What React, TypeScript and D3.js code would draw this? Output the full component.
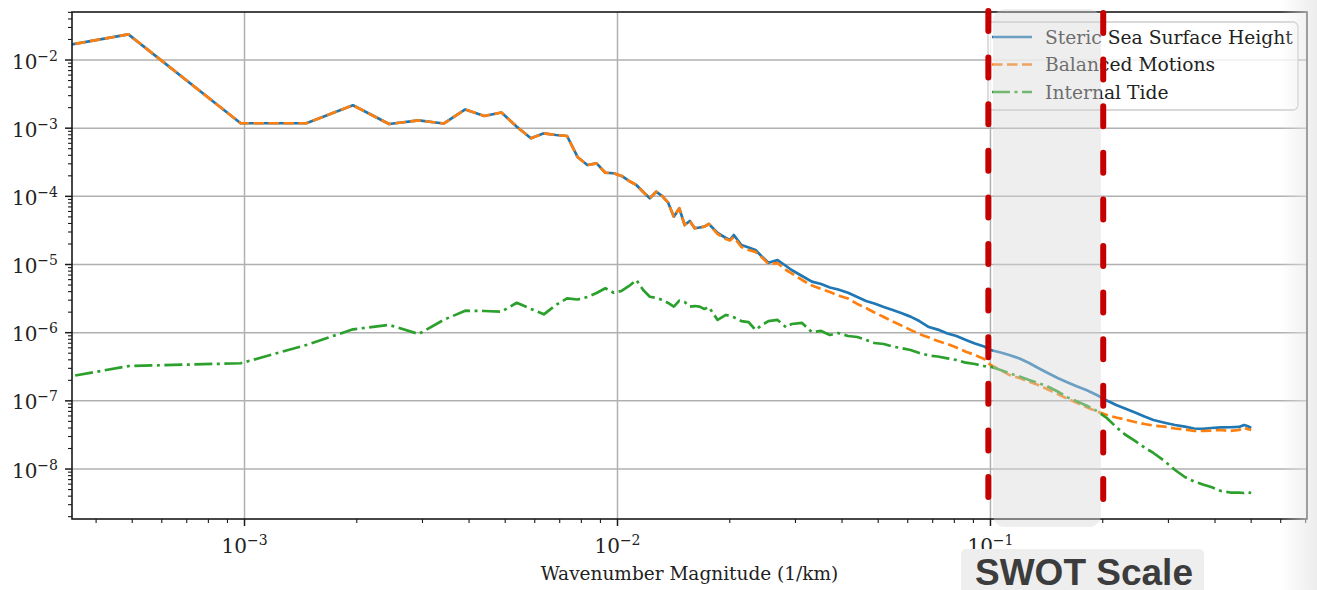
import * as d3 from "d3";
import React from "react";

// wavenumber bins of the isotropic spectrum: k = index * DK (1/km)
const DK = 1 / 2048;

const binIndex = [
  0.5, 1, 2, 3, 4, 5, 6, 7, 8, 9, 10, 11, 12, 13, 14, 15, 16, 17, 18, 19, 20,
  21, 22, 23, 24, 25, 26, 27, 28, 29, 30, 31, 32, 33, 34, 35, 36, 38, 40, 41,
  42, 44, 46, 48, 50, 52, 55, 58, 60, 64, 68, 72, 76, 80, 85, 90, 95, 100, 106,
  112, 118, 125, 132, 140, 148, 157, 166, 176, 186, 197, 205, 218, 230, 245,
  260, 275, 290, 310, 330, 350, 370, 395, 420, 445, 470, 500, 530, 560, 600,
  640, 680, 720, 760, 800, 850, 900, 950, 980, 1000, 1024,
];

const stericSSH = [
  1.21e-2, 2.38e-2, 1.18e-3, 1.18e-3, 2.17e-3, 1.15e-3, 1.3e-3, 1.17e-3, 1.88e-3,
  1.51e-3, 1.7e-3, 1.05e-3, 7.1e-4, 8.41e-4, 7.94e-4, 7.68e-4, 3.78e-4, 2.88e-4,
  3.05e-4, 2.22e-4, 2.18e-4, 1.99e-4, 1.68e-4, 1.47e-4, 1.16e-4, 9.36e-5, 1.17e-4,
  1.01e-4, 8.07e-5, 5.03e-5, 6.68e-5, 3.8e-5, 4.35e-5, 3.4e-5, 3.49e-5, 3.59e-5,
  3.93e-5, 2.9e-5, 2.45e-5, 2.29e-5, 2.71e-5, 1.93e-5, 1.78e-5, 1.63e-5, 1.3e-5,
  1.06e-5, 1.16e-5, 9.51e-6, 8.31e-6, 6.78e-6, 5.6e-6, 5.18e-6, 4.6e-6, 4.3e-6,
  3.86e-6, 3.34e-6, 2.92e-6, 2.68e-6, 2.38e-6, 2.15e-6, 1.94e-6, 1.72e-6, 1.48e-6,
  1.21e-6, 1.11e-6, 9.72e-7, 8.94e-7, 7.81e-7, 6.94e-7, 6.27e-7, 5.57e-7, 5.12e-7,
  4.71e-7, 4.18e-7, 3.59e-7, 3.03e-7, 2.61e-7, 2.16e-7, 1.86e-7, 1.62e-7, 1.44e-7,
  1.22e-7, 1.01e-7, 8.7e-8, 7.73e-8, 6.75e-8, 5.9e-8, 5.24e-8, 4.78e-8, 4.42e-8,
  4.18e-8, 3.93e-8, 3.87e-8, 4.0e-8, 4.07e-8, 4.1e-8, 4.14e-8, 4.42e-8, 4.28e-8,
  4.0e-8,
];

const balancedMotions = [
  1.21e-2, 2.38e-2, 1.18e-3, 1.18e-3, 2.17e-3, 1.15e-3, 1.3e-3, 1.17e-3, 1.88e-3,
  1.51e-3, 1.7e-3, 1.05e-3, 7.1e-4, 8.41e-4, 7.94e-4, 7.68e-4, 3.78e-4, 2.88e-4,
  3.05e-4, 2.22e-4, 2.18e-4, 1.99e-4, 1.68e-4, 1.47e-4, 1.16e-4, 9.36e-5, 1.17e-4,
  1.01e-4, 8.07e-5, 5.03e-5, 6.68e-5, 3.8e-5, 4.35e-5, 3.4e-5, 3.49e-5, 3.59e-5,
  3.93e-5, 2.8e-5, 2.37e-5, 2.25e-5, 2.53e-5, 1.81e-5, 1.63e-5, 1.53e-5, 1.27e-5,
  1.02e-5, 1.05e-5, 8.31e-6, 7.43e-6, 5.93e-6, 4.92e-6, 4.37e-6, 3.95e-6, 3.51e-6,
  3.17e-6, 2.64e-6, 2.3e-6, 1.98e-6, 1.7e-6, 1.46e-6, 1.28e-6, 1.1e-6, 9.56e-7,
  8.5e-7, 7.55e-7, 6.82e-7, 6.06e-7, 5.26e-7, 4.71e-7, 4.11e-7, 3.36e-7, 2.84e-7,
  2.4e-7, 2.16e-7, 1.91e-7, 1.71e-7, 1.49e-7, 1.26e-7, 1.07e-7, 9.3e-8, 8.13e-8,
  6.98e-8, 6.2e-8, 5.7e-8, 5.33e-8, 4.89e-8, 4.58e-8, 4.35e-8, 4.18e-8, 3.93e-8,
  3.8e-8, 3.61e-8, 3.61e-8, 3.67e-8, 3.74e-8, 3.61e-8, 3.74e-8, 4.07e-8, 3.87e-8,
  3.74e-8,
];

const internalTide = [
  1.65e-7, 3.24e-7, 3.56e-7, 6.6e-7, 1.12e-6, 1.3e-6, 9.56e-7, 1.54e-6, 2.1e-6,
  2.08e-6, 2.03e-6, 2.75e-6, 2.23e-6, 1.86e-6, 2.55e-6, 3.19e-6, 3.07e-6, 3.34e-6,
  3.82e-6, 4.48e-6, 3.86e-6, 4.09e-6, 4.84e-6, 5.93e-6, 4.23e-6, 3.37e-6, 3.23e-6,
  3.02e-6, 2.73e-6, 2.41e-6, 2.95e-6, 2.82e-6, 2.41e-6, 2.46e-6, 2.41e-6, 2.23e-6,
  2.38e-6, 1.54e-6, 1.82e-6, 1.76e-6, 1.68e-6, 1.48e-6, 1.43e-6, 1.1e-6, 1.3e-6,
  1.48e-6, 1.54e-6, 1.2e-6, 1.34e-6, 1.39e-6, 1.02e-6, 1.06e-6, 9.25e-7, 9.89e-7,
  8.94e-7, 8.65e-7, 7.81e-7, 7.06e-7, 6.82e-7, 6.27e-7, 5.96e-7, 5.57e-7, 5.03e-7,
  4.63e-7, 4.47e-7, 4.21e-7, 3.97e-7, 3.63e-7, 3.47e-7, 3.24e-7, 3.17e-7, 2.84e-7,
  2.54e-7, 2.28e-7, 2.02e-7, 1.83e-7, 1.65e-7, 1.37e-7, 1.12e-7, 9.78e-8, 8.55e-8,
  7.1e-8, 5.6e-8, 4.14e-8, 3.21e-8, 2.58e-8, 2.07e-8, 1.72e-8, 1.31e-8, 9.67e-9,
  7.64e-9, 6.56e-9, 5.93e-9, 5.45e-9, 4.76e-9, 4.52e-9, 4.52e-9, 4.45e-9, 4.6e-9,
  4.45e-9,
];

const xMajor = [1e-3, 1e-2, 1e-1];
const xMajorExp = ["\u22123", "\u22122", "\u22121"];
const yMajor = [1e-2, 1e-3, 1e-4, 1e-5, 1e-6, 1e-7, 1e-8];
const yMajorExp = ["\u22122", "\u22123", "\u22124", "\u22125", "\u22126", "\u22127", "\u22128"];
const legendLabels = ["Steric Sea Surface Height", "Balanced Motions", "Internal Tide"];
const swotBand = [0.0987, 0.2006]; // red dashed markers (1/km)
const swotShade = [0.1016, 0.1978];

const W = 1317;
const H = 590;
const L = 72, R = 1307, T = 12, B = 519;

const x = d3.scaleLog().domain([3.447e-4, 0.7058]).range([L, R]);
const y = d3.scaleLog().domain([1.849e-9, 0.0506]).range([B, T]);

function minorTicks(lo: number, hi: number, dom: number[]) {
  const out: number[] = [];
  for (let d = lo; d <= hi; d++) {
    for (let m = 2; m <= 9; m++) {
      const v = m * Math.pow(10, d);
      if (v >= dom[0] && v <= dom[1]) out.push(v);
    }
  }
  return out;
}

const xMinor = minorTicks(-4, 0, x.domain());
const yMinor = minorTicks(-9, -2, y.domain());

const series = [
  { values: stericSSH, color: "#1f77b4", dash: undefined },
  { values: balancedMotions, color: "#ff7f0e", dash: "10.5 4.5" },
  { values: internalTide, color: "#2ca02c", dash: "18 4.5 3 4.5" },
];

const serif = "'DejaVu Serif', serif";

export default function App() {
  const line = d3
    .line<number>()
    .x((_, i) => x(binIndex[i] * DK))
    .y((v) => y(v));

  return (
    <svg
      width={W}
      height={H}
      style={{ position: "absolute", left: 0, top: 0, background: "#fff" }}
      fontFamily={serif}
    >
      <defs>
        <clipPath id="plot">
          <rect x={L} y={T} width={R - L} height={B - T} />
        </clipPath>
        <linearGradient id="edge" x1="0" x2="1" y1="0" y2="0">
          <stop offset="0" stopColor="#e6e6e6" stopOpacity={0} />
          <stop offset="1" stopColor="#e6e6e6" stopOpacity={0.75} />
        </linearGradient>
      </defs>

      {/* grid */}
      {xMajor.map((t) => (
        <line key={"gx" + t} x1={x(t)} x2={x(t)} y1={T} y2={B} stroke="#b0b0b0" strokeWidth={1.5} />
      ))}
      {yMajor.map((t) => (
        <line key={"gy" + t} x1={L} x2={R} y1={y(t)} y2={y(t)} stroke="#b0b0b0" strokeWidth={1.5} />
      ))}

      {/* spectra */}
      <g clipPath="url(#plot)" fill="none">
        {series.map((s, i) => (
          <path
            key={i}
            d={line(s.values) || ""}
            stroke={s.color}
            strokeWidth={2.7}
            strokeDasharray={s.dash}
            strokeLinejoin="round"
          />
        ))}
      </g>

      {/* spines */}
      <rect x={L} y={T} width={R - L} height={B - T} fill="none" stroke="#1a1a1a" strokeWidth={1.6} />

      {/* ticks */}
      {xMajor.map((t) => (
        <line key={"tx" + t} x1={x(t)} x2={x(t)} y1={B} y2={B + 7} stroke="#1a1a1a" strokeWidth={1.5} />
      ))}
      {xMinor.map((t) => (
        <line key={"mx" + t} x1={x(t)} x2={x(t)} y1={B} y2={B + 4} stroke="#1a1a1a" strokeWidth={1.1} />
      ))}
      {yMajor.map((t) => (
        <line key={"ty" + t} x1={L - 7} x2={L} y1={y(t)} y2={y(t)} stroke="#1a1a1a" strokeWidth={1.5} />
      ))}
      {yMinor.map((t) => (
        <line key={"my" + t} x1={L - 4} x2={L} y1={y(t)} y2={y(t)} stroke="#1a1a1a" strokeWidth={1.1} />
      ))}

      {/* tick labels */}
      {xMajor.map((t, i) => (
        <text key={"lx" + t} x={x(t)} y={553} textAnchor="middle" fontSize={20} fill="#222">
          10<tspan dy={-8} fontSize={14}>{xMajorExp[i]}</tspan>
        </text>
      ))}
      {yMajor.map((t, i) => (
        <text key={"ly" + t} x={58} y={y(t) + 8.5} textAnchor="end" fontSize={20} fill="#222">
          10<tspan dy={-8} fontSize={14}>{yMajorExp[i]}</tspan>
        </text>
      ))}

      <text x={(L + R) / 2} y={580} textAnchor="middle" fontSize={18.5} fill="#222">
        Wavenumber Magnitude (1/km)
      </text>

      {/* legend */}
      <g>
        <rect x={988} y={22} width={310} height={88} rx={5} fill="#fff" fillOpacity={0.8} stroke="#cccccc" strokeWidth={1.3} />
        {legendLabels.map((lab, i) => {
          const cy = 37 + i * 27.5;
          return (
            <g key={lab}>
              <line
                x1={992}
                x2={1032}
                y1={cy}
                y2={cy}
                stroke={series[i].color}
                strokeWidth={2.7}
                strokeDasharray={series[i].dash}
              />
              <text x={1045} y={cy} dominantBaseline="central" fontSize={18.7} fill="#222">
                {lab}
              </text>
            </g>
          );
        })}
      </g>

      {/* SWOT annotation */}
      <rect
        x={x(swotShade[0])}
        y={9}
        width={x(swotShade[1]) - x(swotShade[0])}
        height={518}
        rx={12}
        fill="#d6d6d6"
        fillOpacity={0.42}
      />
      {swotBand.map((k, i) => (
        <line
          key={"swot" + i}
          x1={x(k)}
          x2={x(k)}
          y1={i === 0 ? 11 : 13}
          y2={i === 0 ? 497 : 499}
          stroke="#c40000"
          strokeWidth={6}
          strokeLinecap="round"
          strokeDasharray="20 26.6"
        />
      ))}
      <rect x={961} y={549} width={243} height={45} rx={5} fill="#eeeeee" />
      <text
        x={975}
        y={585}
        fontFamily="'Liberation Sans', Arial, sans-serif"
        fontWeight="bold"
        fontSize={37}
        fill="#3c3c3c"
      >
        SWOT Scale
      </text>

      <rect x={1280} y={0} width={37} height={H} fill="url(#edge)" />
    </svg>
  );
}
